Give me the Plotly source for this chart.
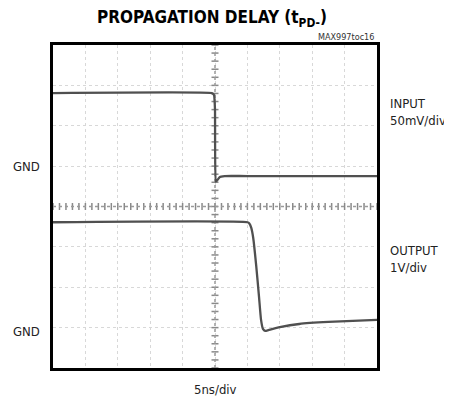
import plotly.graph_objects as go

# ---- data (in screen divisions: x 0..10, y 0..8) ----
input_x = [0, 4.90, 4.97, 5.00, 5.02, 5.06, 5.15, 5.3, 5.5, 6.0, 10]
input_y = [6.81, 6.81, 6.76, 6.40, 4.62, 4.64, 4.73, 4.75, 4.76, 4.75, 4.75]

output_x = [0, 6.00, 6.06, 6.12, 6.18, 6.27, 6.36, 6.42, 6.48, 6.55, 6.65, 7.0, 7.6, 8.5, 10]
output_y = [3.61, 3.61, 3.58, 3.47, 3.22, 2.55, 1.75, 1.20, 0.97, 0.92, 0.94, 1.01, 1.09, 1.14, 1.19]

center_ticks = [i * 0.2 for i in range(0, 51)]
center_ticks_y = [i * 0.2 for i in range(0, 41)]

title_text = "PROPAGATION DELAY (t<sub>PD-</sub>)"
part_no = "MAX997toc16"
gnd_levels = [4.98, 0.9]
right_labels = ["INPUT<br>50mV/div", "OUTPUT<br>1V/div"]
right_label_y = [6.33, 2.70]
x_label = "5ns/div"

FAM = "DejaVu Sans Condensed, Liberation Sans, sans-serif"

fig = go.Figure()

# center graticule lines with tick marks
fig.add_trace(go.Scatter(x=[5] * len(center_ticks_y), y=center_ticks_y, mode="markers",
                         marker=dict(symbol="line-ew", size=5, line=dict(width=1.5, color="#8a8a8a")),
                         hoverinfo="skip", showlegend=False))
fig.add_trace(go.Scatter(x=center_ticks, y=[4] * len(center_ticks), mode="markers",
                         marker=dict(symbol="line-ns", size=5, line=dict(width=1.5, color="#8a8a8a")),
                         hoverinfo="skip", showlegend=False))
fig.add_trace(go.Scatter(x=[5, 5], y=[0, 8], mode="lines",
                         line=dict(color="#9a9a9a", width=1.5, dash="dot"),
                         hoverinfo="skip", showlegend=False))
fig.add_trace(go.Scatter(x=[0, 10], y=[4, 4], mode="lines",
                         line=dict(color="#9a9a9a", width=1.5, dash="dot"),
                         hoverinfo="skip", showlegend=False))

# signals
fig.add_trace(go.Scatter(x=input_x, y=input_y, mode="lines",
                         line=dict(color="#505050", width=2.3, shape="spline", smoothing=0.3),
                         showlegend=False))
fig.add_trace(go.Scatter(x=output_x, y=output_y, mode="lines",
                         line=dict(color="#505050", width=2.3, shape="spline", smoothing=0.5),
                         showlegend=False))

annotations = [
    dict(text=title_text, x=0.49, y=1.082, xref="paper", yref="paper", showarrow=False,
         font=dict(family=FAM, size=17, color="black", weight="bold"), borderpad=0,
         xanchor="center", yanchor="middle"),
    dict(text=part_no, x=0.995, y=1.026, xref="paper", yref="paper", showarrow=False,
         font=dict(family=FAM, size=9, color="#333"), borderpad=0,
         xanchor="right", yanchor="middle"),
    dict(text=x_label, x=5.0, y=-0.068, xref="x", yref="paper", showarrow=False,
         font=dict(family=FAM, size=13, color="#222"),
         xanchor="center", yanchor="middle"),
]
for g in gnd_levels:
    annotations.append(dict(text="GND", x=-0.13, y=g, xref="paper", yref="y", showarrow=False,
                            font=dict(family=FAM, size=13, color="#222"),
                            xanchor="left", yanchor="middle"))
for t, yy in zip(right_labels, right_label_y):
    annotations.append(dict(text=t, x=1.033, y=yy, xref="paper", yref="y", showarrow=False,
                            align="left",
                            font=dict(family=FAM, size=13, color="#222"),
                            xanchor="left", yanchor="middle"))

axis_common = dict(showline=True, mirror=True, linecolor="black", linewidth=3,
                   showticklabels=False, ticks="", zeroline=False,
                   showgrid=True, gridcolor="#d8d8d8", gridwidth=1, griddash="dot",
                   dtick=1, fixedrange=True)

# page body has an 8px default margin, so the figure is offset by 8px
fig.update_layout(
    width=444, height=392,
    margin=dict(l=45, r=75, t=37, b=32),
    paper_bgcolor="white", plot_bgcolor="white",
    xaxis=dict(range=[0, 10], **axis_common),
    yaxis=dict(range=[0, 8], **axis_common),
    annotations=annotations,
    showlegend=False,
)

fig.write_html("out.html")
